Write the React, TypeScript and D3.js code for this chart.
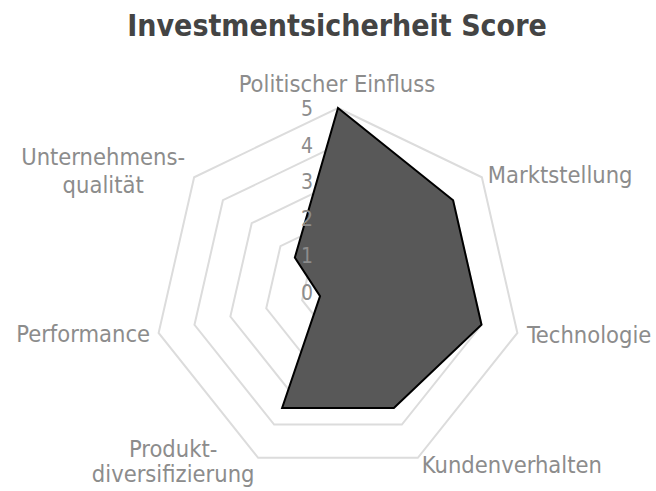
import React from "react";
import * as d3 from "d3";

const categories = [
  "Politischer Einfluss",
  "Marktstellung",
  "Technologie",
  "Kundenverhalten",
  "Produktdiversifizierung",
  "Performance",
  "Unternehmensqualität",
];
const categoryLabelLines: string[][] = [
  ["Politischer Einfluss"],
  ["Marktstellung"],
  ["Technologie"],
  ["Kundenverhalten"],
  ["Produkt-", "diversifizierung"],
  ["Performance"],
  ["Unternehmens-", "qualität"],
];
const scores = [5, 4, 4, 3.5, 3.5, 0.5, 1.5];
const tickValues = [0, 1, 2, 3, 4, 5];
const title = "Investmentsicherheit Score";

const W = 656;
const H = 491;
const cx = 338;
const cy = 292;
const R = 184;
const FONT = "'DejaVu Sans Condensed', 'DejaVu Sans', sans-serif";

export default function App() {
  const r = d3.scaleLinear().domain([0, 5]).range([0, R]);
  const angle = d3
    .scaleLinear()
    .domain([0, categories.length])
    .range([0, 2 * Math.PI]);

  const radial = d3
    .lineRadial<number>()
    .angle((_, i) => angle(i))
    .radius((d) => r(d))
    .curve(d3.curveLinearClosed);

  const ringPath = (v: number) => radial(categories.map(() => v)) || "";
  const dataPath = radial(scores) || "";

  const pt = (i: number, v: number) => {
    const a = angle(i) - Math.PI / 2;
    return [cx + r(v) * Math.cos(a), cy + r(v) * Math.sin(a)];
  };

  // label placement relative to outer vertex: anchor, x offset, first baseline offset, line height
  const labelConf: { anchor: string; dx: number; dy: number; lh: number }[] = [
    { anchor: "middle", dx: -1, dy: -16, lh: 0 },
    { anchor: "start", dx: 6, dy: 6, lh: 0 },
    { anchor: "start", dx: 9.5, dy: 10, lh: 0 },
    { anchor: "start", dx: 4, dy: 15, lh: 0 },
    { anchor: "middle", dx: -85, dy: -1, lh: 25.5 },
    { anchor: "end", dx: -8.5, dy: 9, lh: 0 },
    { anchor: "middle", dx: -91, dy: -12, lh: 28 },
  ];

  return (
    <svg
      width={W}
      height={H}
      style={{ position: "absolute", left: 0, top: 0, background: "#fff" }}
      fontFamily={FONT}
    >
      <text
        x={337}
        y={36}
        textAnchor="middle"
        fontSize={30}
        fontWeight="bold"
        fill="#444"
      >
        {title}
      </text>
      <g transform={`translate(${cx},${cy})`}>
        {tickValues
          .filter((v) => v > 0)
          .map((v) => (
            <path
              key={v}
              d={ringPath(v)}
              fill="none"
              stroke="#dcdcdc"
              strokeWidth={2}
            />
          ))}
        <path
          d={dataPath}
          fill="#585858"
          stroke="#000"
          strokeWidth={2}
          strokeLinejoin="miter"
        />
      </g>
      {tickValues.map((v) => (
        <text
          key={v}
          x={cx - 25}
          y={cy - r(v)}
          dy="0.37em"
          textAnchor="end"
          fontSize={21}
          fill="#8c8c8c"
        >
          {v}
        </text>
      ))}
      {categories.map((c, i) => {
        const [x, y] = pt(i, 5);
        const conf = labelConf[i];
        const lines = categoryLabelLines[i];
        return (
          <text
            key={c}
            textAnchor={conf.anchor}
            fontSize={23.5}
            fill="#8c8c8c"
          >
            {lines.map((ln, j) => (
              <tspan key={j} x={x + conf.dx} y={y + conf.dy + j * conf.lh}>
                {ln}
              </tspan>
            ))}
          </text>
        );
      })}
    </svg>
  );
}
